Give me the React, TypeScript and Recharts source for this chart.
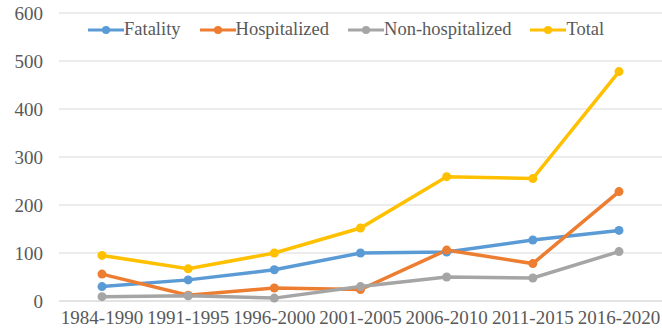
import { LineChart, Line, XAxis, YAxis, CartesianGrid, Legend } from "recharts";

const periods = ["1984-1990", "1991-1995", "1996-2000", "2001-2005", "2006-2010", "2011-2015", "2016-2020"];
const fatality = [30, 44, 65, 100, 102, 127, 147];
const hospitalized = [56, 12, 27, 24, 106, 78, 228];
const nonHospitalized = [9, 11, 6, 30, 50, 48, 103];
const total = [95, 67, 100, 152, 259, 255, 478];
const yTicks = [0, 100, 200, 300, 400, 500, 600];

const series = [
  { key: "fatality", name: "Fatality", color: "#5B9BD5" },
  { key: "hospitalized", name: "Hospitalized", color: "#ED7D31" },
  { key: "nonHospitalized", name: "Non-hospitalized", color: "#A5A5A5" },
  { key: "total", name: "Total", color: "#FFC000" },
];

const data = periods.map((p, i) => ({
  period: p,
  fatality: fatality[i],
  hospitalized: hospitalized[i],
  nonHospitalized: nonHospitalized[i],
  total: total[i],
}));

const font = "'Times New Roman', Tinos, 'Noto Serif', 'Nimbus Roman', FreeSerif, 'Liberation Serif', 'DejaVu Serif', Times, serif";
const textColor = "#595959";

function LegendRow() {
  return (
    <div style={{ display: "flex", alignItems: "center", fontFamily: font, fontSize: 18.5, color: textColor, whiteSpace: "nowrap" }}>
      {series.map((s, i) => (
        <div key={s.key} style={{ display: "flex", alignItems: "center", marginLeft: i === 0 ? 0 : 19 }}>
          <svg width={36} height={10} style={{ display: "block" }}>
            <line x1={0} y1={5} x2={36} y2={5} stroke={s.color} strokeWidth={3} />
            <circle cx={18} cy={5} r={4} fill={s.color} />
          </svg>
          <span>{s.name}</span>
        </div>
      ))}
    </div>
  );
}

export default function App() {
  return (
    <div style={{ position: "absolute", left: 0, top: 0, background: "#fff" }}>
      <LineChart width={662} height={333} data={data} margin={{ top: 13, right: 0, left: 0, bottom: 0 }}>
        <CartesianGrid vertical={false} stroke="#d9d9d9" strokeWidth={1.2} />
        <XAxis
          dataKey="period"
          height={32}
          padding={{ left: 43, right: 43 }}
          tickLine={false}
          tickSize={0}
          tickMargin={10}
          axisLine={{ stroke: "#d9d9d9", strokeWidth: 1.2 }}
          interval={0}
          tick={{ fill: textColor, fontFamily: font, fontSize: 19 }}
        />
        <YAxis
          width={59}
          domain={[0, 600]}
          ticks={yTicks}
          tickLine={false}
          tickSize={0}
          tickMargin={16}
          axisLine={false}
          tick={{ fill: textColor, fontFamily: font, fontSize: 19 }}
        />
        <Legend
          layout="horizontal"
          align="center"
          verticalAlign="middle"
          wrapperStyle={{ top: 19, left: 88, width: "auto" }}
          content={() => <LegendRow />}
        />
        {series.map((s) => (
          <Line
            key={s.key}
            dataKey={s.key}
            name={s.name}
            stroke={s.color}
            strokeWidth={3.5}
            dot={{ r: 4.5, fill: s.color, stroke: s.color, strokeWidth: 0 }}
            activeDot={false}
            isAnimationActive={false}
          />
        ))}
      </LineChart>
    </div>
  );
}
